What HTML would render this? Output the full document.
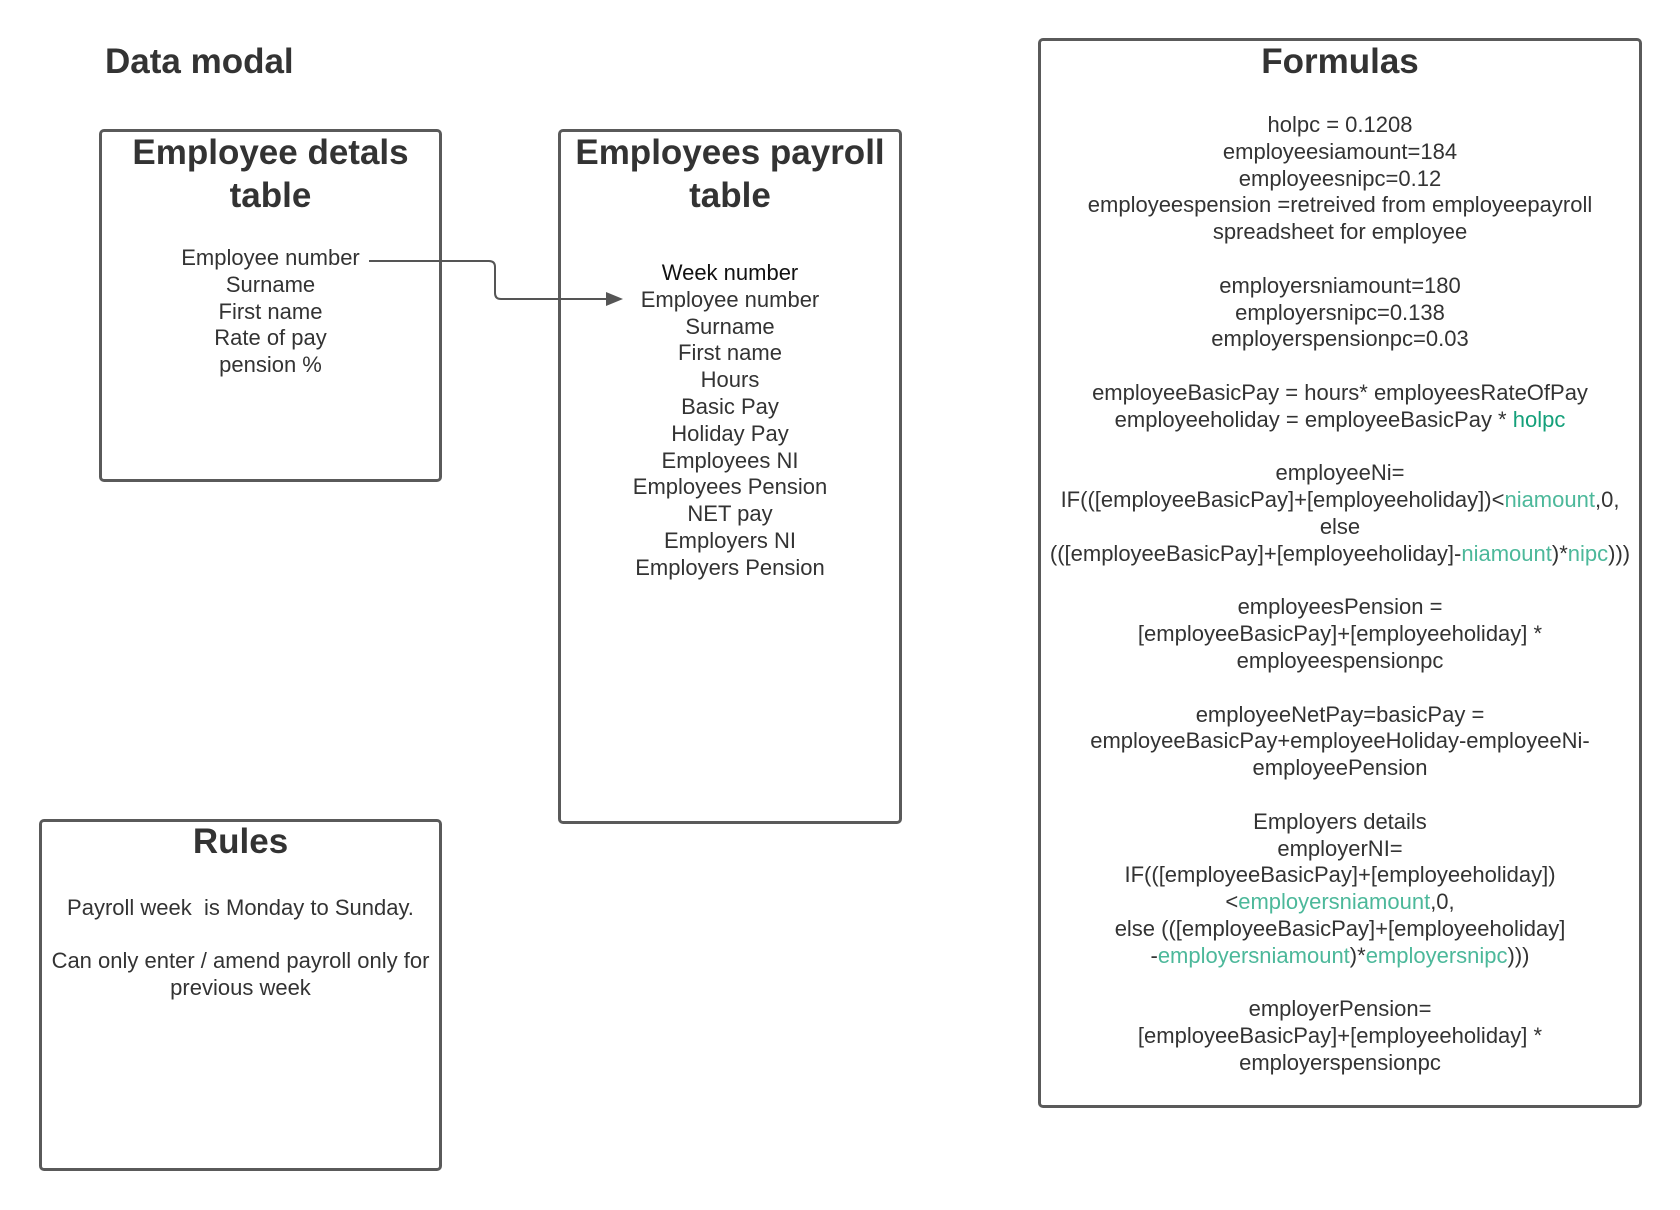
<!DOCTYPE html>
<html><head><meta charset="utf-8"><style>
body{margin:0;width:1680px;height:1210px;background:#fff;position:relative;font-family:"Liberation Sans",sans-serif;color:#333;overflow:hidden}
.box{position:absolute;border:3px solid #5a5a5a;border-radius:5px;box-sizing:border-box}
.t{position:absolute;text-align:center;font-size:22px;line-height:26.8px;white-space:pre}
.h{position:absolute;text-align:center;font-weight:bold;font-size:35px;line-height:43px;color:#333}
.g{color:#4cb89a}
.g2{color:#14a07a}
</style></head><body>
<div class="h" style="left:105px;top:40px;text-align:left">Data modal</div>

<div class="box" style="left:99px;top:129px;width:343px;height:353px"></div>
<div class="h" style="left:99px;top:131px;width:343px">Employee detals<br>table</div>
<div class="t" style="left:99px;top:245px;width:343px">Employee number
Surname
First name
Rate of pay
pension %</div>

<div class="box" style="left:558px;top:129px;width:344px;height:695px"></div>
<div class="h" style="left:558px;top:131px;width:344px">Employees payroll<br>table</div>
<div class="t" style="left:558px;top:260px;width:344px"><span style="color:#111">Week number</span>
Employee number
Surname
First name
Hours
Basic Pay
Holiday Pay
Employees NI
Employees Pension
NET pay
Employers NI
Employers Pension</div>

<svg style="position:absolute;left:0;top:0" width="1680" height="1210">
<path d="M369 261 H489 Q495 261 495 267 V293 Q495 299 501 299 H608" fill="none" stroke="#555" stroke-width="2"/>
<polygon points="623,299 606,292 606,306" fill="#555"/>
</svg>

<div class="box" style="left:39px;top:819px;width:403px;height:352px"></div>
<div class="h" style="left:39px;top:820px;width:403px">Rules</div>
<div class="t" style="left:39px;top:895px;width:403px">Payroll week  is Monday to Sunday.</div>
<div class="t" style="left:39px;top:948px;width:403px">Can only enter / amend payroll only for
previous week</div>

<div class="box" style="left:1038px;top:38px;width:604px;height:1070px"></div>
<div class="h" style="left:1038px;top:40px;width:604px">Formulas</div>
<div class="t" style="left:1038px;top:112px;width:604px">holpc = 0.1208
employeesiamount=184
employeesnipc=0.12
employeespension =retreived from employeepayroll
spreadsheet for employee

employersniamount=180
employersnipc=0.138
employerspensionpc=0.03

employeeBasicPay = hours* employeesRateOfPay
employeeholiday = employeeBasicPay * <span class="g2">holpc</span>

employeeNi=
IF(([employeeBasicPay]+[employeeholiday])&lt;<span class="g">niamount</span>,0,
else
(([employeeBasicPay]+[employeeholiday]-<span class="g">niamount</span>)*<span class="g">nipc</span>)))

employeesPension =
[employeeBasicPay]+[employeeholiday] *
employeespensionpc

employeeNetPay=basicPay =
employeeBasicPay+employeeHoliday-employeeNi-
employeePension

Employers details
employerNI=
IF(([employeeBasicPay]+[employeeholiday])
&lt;<span class="g">employersniamount</span>,0,
else (([employeeBasicPay]+[employeeholiday]
-<span class="g">employersniamount</span>)*<span class="g">employersnipc</span>)))

employerPension=
[employeeBasicPay]+[employeeholiday] *
employerspensionpc</div>
</body></html>
